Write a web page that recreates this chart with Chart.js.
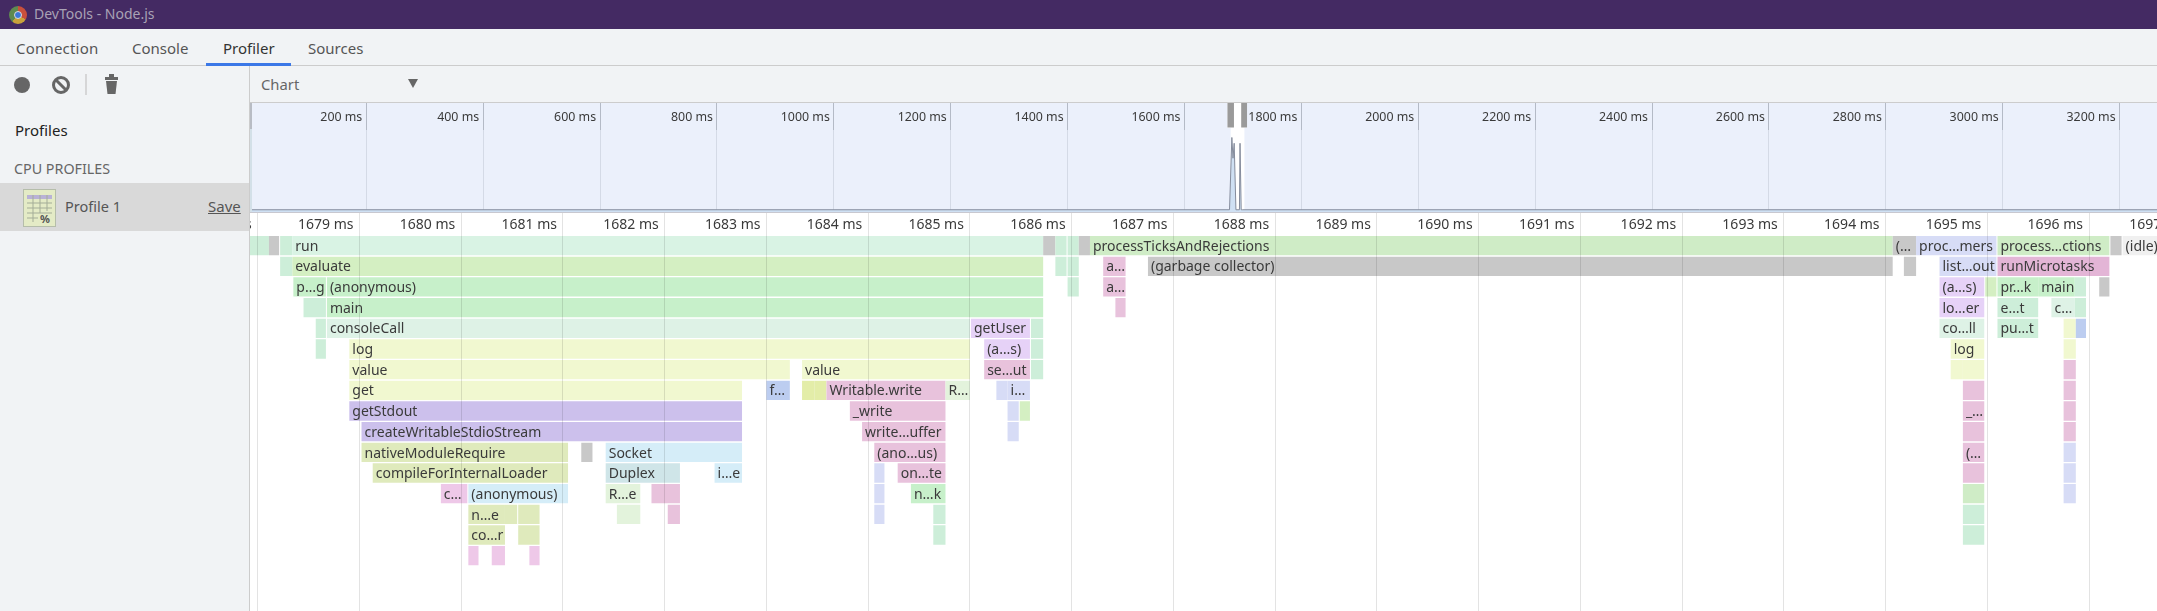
<!DOCTYPE html>
<html>
<head>
<meta charset="utf-8">
<title>DevTools - Node.js</title>
<script src="https://cdn.jsdelivr.net/npm/chart.js@4"></script>
<style>
    html, body { margin: 0; padding: 0; width: 2157px; height: 611px; overflow: hidden; background: #fff; font-family: "Noto Sans", sans-serif; }
    .abs { position: absolute; white-space: nowrap; line-height: 20px; }
    #titlebar { position: absolute; left: 0; top: 0; width: 2157px; height: 29px; background: #442a63; }
    #tabs { position: absolute; left: 0; top: 29px; width: 2157px; height: 36px; background: #f1f3f5; border-bottom: 1px solid #ccc; }
    #toolbar { position: absolute; left: 0; top: 66px; width: 2157px; height: 36px; background: #f1f3f5; border-bottom: 1px solid #ccc; }
    #sidebar { position: absolute; left: 0; top: 66px; width: 249px; height: 545px; background: #f1f3f5; border-right: 1px solid #ccc; z-index: 5; }
    #selected { position: absolute; left: 0; top: 117px; width: 249px; height: 48px; background: #d9d9d9; }
    #flame { position: absolute; left: 150px; top: 213px; width: 2100px; height: 415px; }
    #overview { position: absolute; left: 250px; top: 102px; width: 1907px; height: 111px; background: #ebf0fb; }
    #edge { position: absolute; left: 250px; top: 103px; width: 2px; height: 110px; background: linear-gradient(#b8bcc4 26px, #d3e0e8 26px); z-index: 3; }
    #rule { position: absolute; left: 250px; top: 212px; width: 1907px; height: 1px; background: #c8c8d0; z-index: 3; }
    canvas { display: block; }
</style>
</head>
<body>
<div id="flame"><canvas id="flameChart" width="2100" height="415"></canvas></div>
<div id="overview"><canvas id="overviewChart" width="1907" height="111"></canvas></div>
<div id="edge"></div>
<div id="rule"></div>

<div id="titlebar">
    <div class="abs" style="left:9px;top:6px;width:18px;height:18px;border-radius:50%;background:conic-gradient(#c9503c 0 120deg,#c9a23c 120deg 220deg,#5f8a50 220deg 360deg)"></div>
    <div class="abs" style="left:14px;top:11px;width:8px;height:8px;border-radius:50%;background:#3c78d8;border:1px solid #ddd;box-sizing:border-box"></div>
    <div class="abs" style="left:34px;top:4px;font-size:14px;color:#a9a2b5">DevTools - Node.js</div>
</div>

<div id="tabs">
    <div class="abs" style="left:16px;top:9px;font-size:15px;letter-spacing:0.2px;color:#555">Connection</div>
    <div class="abs" style="left:132px;top:9px;font-size:15px;color:#555">Console</div>
    <div class="abs" style="left:223px;top:9px;font-size:15px;color:#333">Profiler</div>
    <div class="abs" style="left:308px;top:9px;font-size:15px;color:#555">Sources</div>
    <div class="abs" style="left:206px;top:34px;width:85px;height:3px;background:#3b78e7"></div>
</div>

<div id="toolbar">
    <div class="abs" style="left:261px;top:8px;font-size:14.8px;color:#666">Chart</div>
    <div class="abs" style="left:408px;top:13px;width:0;height:0;border-left:5px solid transparent;border-right:5px solid transparent;border-top:9px solid #666"></div>
</div>

<div id="sidebar">
    <svg class="abs" style="left:0;top:0" width="130" height="36">
        <circle cx="22" cy="19" r="8" fill="#666"/>
        <circle cx="61" cy="19" r="7.5" fill="none" stroke="#666" stroke-width="3"/>
        <line x1="56" y1="14" x2="66" y2="24" stroke="#666" stroke-width="3"/>
        <line x1="86" y1="8" x2="86" y2="29" stroke="#ccc" stroke-width="1.5"/>
        <rect x="105" y="11" width="13" height="3" fill="#666"/>
        <rect x="109" y="8" width="5" height="3" fill="#666"/>
        <path d="M106 15 L117 15 L115.5 28 L107.5 28 Z" fill="#666"/>
    </svg>
    <div class="abs" style="left:15px;top:54px;font-size:15px;color:#222">Profiles</div>
    <div class="abs" style="left:14px;top:93px;font-size:14.3px;color:#666">CPU PROFILES</div>
    <div id="selected">
        <svg class="abs" style="left:23px;top:6px" width="33" height="38">
            <rect x="0.5" y="0.5" width="32" height="37" fill="#e4ebc6" stroke="#b5bdaa"/>
            <rect x="4" y="6" width="25" height="4" fill="#b9b2d6"/>
            <path d="M4 14H29M4 19H29M4 24H29M4 29H15M10 6V33M17 6V24M24 6V22" stroke="#a4ad98" fill="none"/>
            <text x="17" y="34" font-size="11" font-weight="bold" fill="#555">%</text>
        </svg>
        <div class="abs" style="left:65px;top:13px;font-size:14.5px;color:#555">Profile 1</div>
        <div class="abs" style="left:208px;top:13px;font-size:15px;color:#555;text-decoration:underline">Save</div>
    </div>
</div>

<script>
// flame chart frames, one line per stack depth (times in ms)
const frameStarts = [
    [1676.9,1678.11,1678.22,1678.34,1685.72,1685.84,1685.96,1686.07,1686.18,1694.07,1694.30,1695.10,1696.21,1696.33],
    [1678.22,1678.34,1685.84,1685.96,1686.31,1686.75,1694.18,1694.53,1695.10],
    [1678.35,1678.68,1685.96,1686.31,1694.53,1694.98,1695.10,1695.50,1695.86,1696.10],
    [1678.45,1678.68,1686.43,1694.53,1695.10,1695.63,1695.86],
    [1678.57,1678.68,1685.01,1685.60,1694.53,1695.10,1695.75,1695.87],
    [1678.57,1678.90,1685.14,1685.60,1694.64,1695.75],
    [1678.90,1683.35,1685.14,1685.60,1694.64,1694.76,1695.75],
    [1678.90,1683.00,1683.35,1683.47,1683.59,1684.76,1685.26,1685.37,1694.76,1695.75],
    [1678.90,1683.82,1685.37,1685.49,1694.76,1695.75],
    [1679.02,1683.94,1685.37,1694.76,1695.75],
    [1679.02,1681.18,1681.42,1684.06,1694.76,1695.75],
    [1679.13,1681.42,1682.49,1684.06,1684.29,1694.76,1695.75],
    [1679.80,1680.07,1681.42,1681.87,1684.06,1684.42,1694.76,1695.75],
    [1680.07,1680.43,1680.56,1681.53,1682.03,1684.06,1684.64,1694.76],
    [1680.07,1680.56,1684.64,1694.76],
    [1680.07,1680.30,1680.67]
]
const frameEnds = [
    [1678.11,1678.21,1678.34,1685.72,1685.84,1685.95,1686.07,1686.18,1694.07,1694.30,1695.09,1696.20,1696.32,1697.6],
    [1678.34,1685.72,1685.95,1686.07,1686.53,1694.07,1694.30,1695.09,1696.20],
    [1678.67,1685.72,1686.07,1686.53,1694.97,1695.09,1695.50,1695.86,1695.97,1696.20],
    [1678.67,1685.72,1686.53,1694.97,1695.50,1695.86,1695.97],
    [1678.67,1685.00,1685.59,1685.72,1694.97,1695.50,1695.87,1695.97],
    [1678.67,1685.00,1685.59,1685.72,1694.97,1695.87],
    [1683.23,1685.00,1685.59,1685.72,1694.76,1694.97,1695.87],
    [1682.76,1683.23,1683.47,1683.59,1684.76,1685.00,1685.37,1685.59,1694.97,1695.87],
    [1682.76,1684.76,1685.48,1685.59,1694.97,1695.87],
    [1682.76,1684.76,1685.48,1694.97,1695.87],
    [1681.05,1681.29,1682.76,1684.76,1694.97,1695.87],
    [1681.05,1682.15,1682.76,1684.16,1684.76,1694.97,1695.87],
    [1680.06,1681.05,1681.76,1682.15,1684.16,1684.76,1694.97,1695.87],
    [1680.43,1680.55,1680.77,1681.76,1682.15,1684.16,1684.76,1694.97],
    [1680.43,1680.77,1684.76,1694.97],
    [1680.17,1680.43,1680.77]
]
const frameNames = [
    ['','','','run','','','','','processTicksAndRejections','(…','proc…mers','process…ctions','','(idle)'],
    ['','evaluate','','','a…','(garbage collector)','','list…out','runMicrotasks'],
    ['p…g','(anonymous)','','a…','(a…s)','','pr…k','main','',''],
    ['','main','','lo…er','e…t','c…',''],
    ['','consoleCall','getUser','','co…ll','pu…t','',''],
    ['','log','(a…s)','','log',''],
    ['value','value','se…ut','','','',''],
    ['get','f…','','','Writable.write','R…','','i…','',''],
    ['getStdout','_write','','','_…',''],
    ['createWritableStdioStream','write…uffer','','',''],
    ['nativeModuleRequire','','Socket','(ano…us)','(…',''],
    ['compileForInternalLoader','Duplex','i…e','','on…te','',''],
    ['c…','(anonymous)','R…e','','','n…k','',''],
    ['n…e','','','','','','',''],
    ['co…r','','',''],
    ['','','']
]
const frameKinds = [
    ['vm','gc','vm','run','gc','vm','vm','gc','ticks','gc','timers','ticks','gc','idle'],
    ['vm','evaluate','vm','vm','writable','gc','gc','timers','micro'],
    ['anon','anon','vm','writable','user','evaluate','anon','anon','vm','gc'],
    ['vm','anon','writable','user','vm','console','vm'],
    ['vm','console','user','vm','console','vm','log','fs'],
    ['vm','log','user','vm','log','log'],
    ['log','log','writable','vm','log','log','writable'],
    ['log','fs','bool','bool','writable','readable','timers','timers','writable','writable'],
    ['stdout','writable','timers','evaluate','writable','writable'],
    ['stdout','writable','timers','writable','writable'],
    ['native','gc','socket','writable','writable','timers'],
    ['native','duplex','socket','timers','writable','writable','timers'],
    ['comp','socket','readable','writable','timers','anon','ticks','timers'],
    ['native','native','native','readable','writable','timers','vm','vm'],
    ['native','native','vm','vm'],
    ['comp','comp','comp']
]
const depthLabels = ['0','1','2','3','4','5','6','7','8','9','10','11','12','13','14','15','16','17','18']

// overview line across the whole profile
const overviewTimes = [1,1677,1681,1683,1685,1688,1694,1695,1696,1697,1699,3264]
const overviewLoad = [3.9,3.9,91,66,84,3.9,3.9,84,84,3.9,3.9,3.9]
const overviewWindow = [1679, 1702.5]
const overviewHandles = [[1673.5, 1684.6], [1697, 1707]]

const kindColors = {
    gc: '#c8c8c8', idle: '#f0f0f0', vm: '#cdeed9', run: '#d9f3e4', evaluate: '#d4efc2',
    anon: '#c7f0ca', console: '#def2e6', log: '#f1f8d0', stdout: '#ccc0ec', native: '#dfeabc',
    socket: '#d5edf8', duplex: '#cfe5e8', writable: '#e8c2dc', user: '#e6d2f7', readable: '#e3f3dc',
    timers: '#d7dcf6', ticks: '#cfecc6', micro: '#e3b5d6', fs: '#bccdf0', comp: '#eec8e8', bool: '#e3eda8'
}

Chart.defaults.font.family = '"Noto Sans", sans-serif'

const frames = []
frameStarts.forEach((starts, depth) => {
    starts.forEach((start, i) => {
        frames.push({
            x: [start, frameEnds[depth][i]],
            y: depthLabels[depth],
            name: frameNames[depth][i],
            kind: frameKinds[depth][i]
        })
    })
})

// names on the bars, cut off at the bar end like devtools does
const frameText = {
    id: 'frameText',
    afterDatasetsDraw(chart) {
        const { ctx, scales } = chart
        const bars = chart.getDatasetMeta(0).data
        ctx.save()
        ctx.font = '14px "Noto Sans", sans-serif'
        ctx.fillStyle = '#3a3a3a'
        ctx.textBaseline = 'middle'
        frames.forEach((f, i) => {
            if (!f.name) return
            const left = scales.x.getPixelForValue(f.x[0])
            const right = scales.x.getPixelForValue(f.x[1])
            ctx.save()
            ctx.beginPath()
            ctx.rect(left, bars[i].y - 10, right - left, 20)
            ctx.clip()
            ctx.fillText(f.name, left + 3, bars[i].y + 1.2)
            ctx.restore()
        })
        ctx.restore()
    }
}

new Chart(document.getElementById('flameChart').getContext('2d'), {
    type: 'bar',
    data: {
        labels: depthLabels,
        datasets: [{
            data: frames,
            backgroundColor: frames.map(f => kindColors[f.kind]),
            borderWidth: 0,
            barPercentage: 0.934,
            categoryPercentage: 1
        }]
    },
    options: {
        indexAxis: 'y',
        responsive: false,
        animation: false,
        events: [],
        layout: { padding: 0 },
        plugins: { legend: { display: false }, tooltip: { enabled: false } },
        scales: {
            x: {
                type: 'linear',
                position: 'top',
                min: 1676.941,
                max: 1697.582,
                grid: { color: 'rgba(0,0,0,0.11)', z: 1, tickLength: 22.3 },
                border: { display: false },
                ticks: {
                    stepSize: 1,
                    includeBounds: false,
                    autoSkip: false,
                    maxRotation: 0,
                    align: 'end',
                    labelOffset: -6,
                    padding: -20,
                    color: '#3a3a3a',
                    font: { size: 14 },
                    callback: v => v + ' ms'
                },
                afterFit(scale) {
                    scale.paddingLeft = 0
                    scale.paddingRight = 0
                    scale.height = 22.3
                }
            },
            y: { type: 'category', display: false, grid: { display: false } }
        }
    },
    plugins: [frameText]
})

// white selection window and its two grab handles
const overviewSelection = {
    id: 'overviewSelection',
    beforeDatasetsDraw(chart) {
        const { ctx, scales, height } = chart
        const px = v => scales.x.getPixelForValue(v)
        ctx.save()
        ctx.fillStyle = '#fff'
        ctx.fillRect(px(overviewWindow[0]), 0, px(overviewWindow[1]) - px(overviewWindow[0]), height)
        ctx.fillRect(px(overviewHandles[0][0]), 0, px(overviewHandles[1][1]) - px(overviewHandles[0][0]), 26)
        ctx.fillStyle = '#9a9a9a'
        overviewHandles.forEach(h => ctx.fillRect(px(h[0]), 1, px(h[1]) - px(h[0]), 24.5))
        ctx.restore()
    }
}

new Chart(document.getElementById('overviewChart').getContext('2d'), {
    type: 'line',
    data: {
        datasets: [{
            data: overviewTimes.map((t, i) => ({ x: t, y: overviewLoad[i] })),
            borderColor: '#858c9c',
            borderWidth: 1,
            backgroundColor: '#cfe0f3',
            fill: 'origin',
            pointRadius: 0,
            tension: 0
        }]
    },
    options: {
        responsive: false,
        animation: false,
        events: [],
        layout: { padding: 0 },
        plugins: { legend: { display: false }, tooltip: { enabled: false } },
        scales: {
            x: {
                type: 'linear',
                position: 'top',
                min: 1,
                max: 3264,
                grid: { color: '#d4dae6', tickColor: '#b4bac6', tickLength: 28 },
                border: { display: false },
                ticks: {
                    stepSize: 200,
                    includeBounds: false,
                    autoSkip: false,
                    maxRotation: 0,
                    align: 'end',
                    labelOffset: -4,
                    padding: -23,
                    color: '#3a3a3a',
                    font: { size: 12.4 },
                    callback: v => v + ' ms'
                },
                afterFit(scale) {
                    scale.paddingLeft = 0
                    scale.paddingRight = 0
                    scale.height = 28
                }
            },
            y: { min: 0, max: 100, display: false }
        }
    },
    plugins: [overviewSelection]
})
</script>
</body>
</html>
